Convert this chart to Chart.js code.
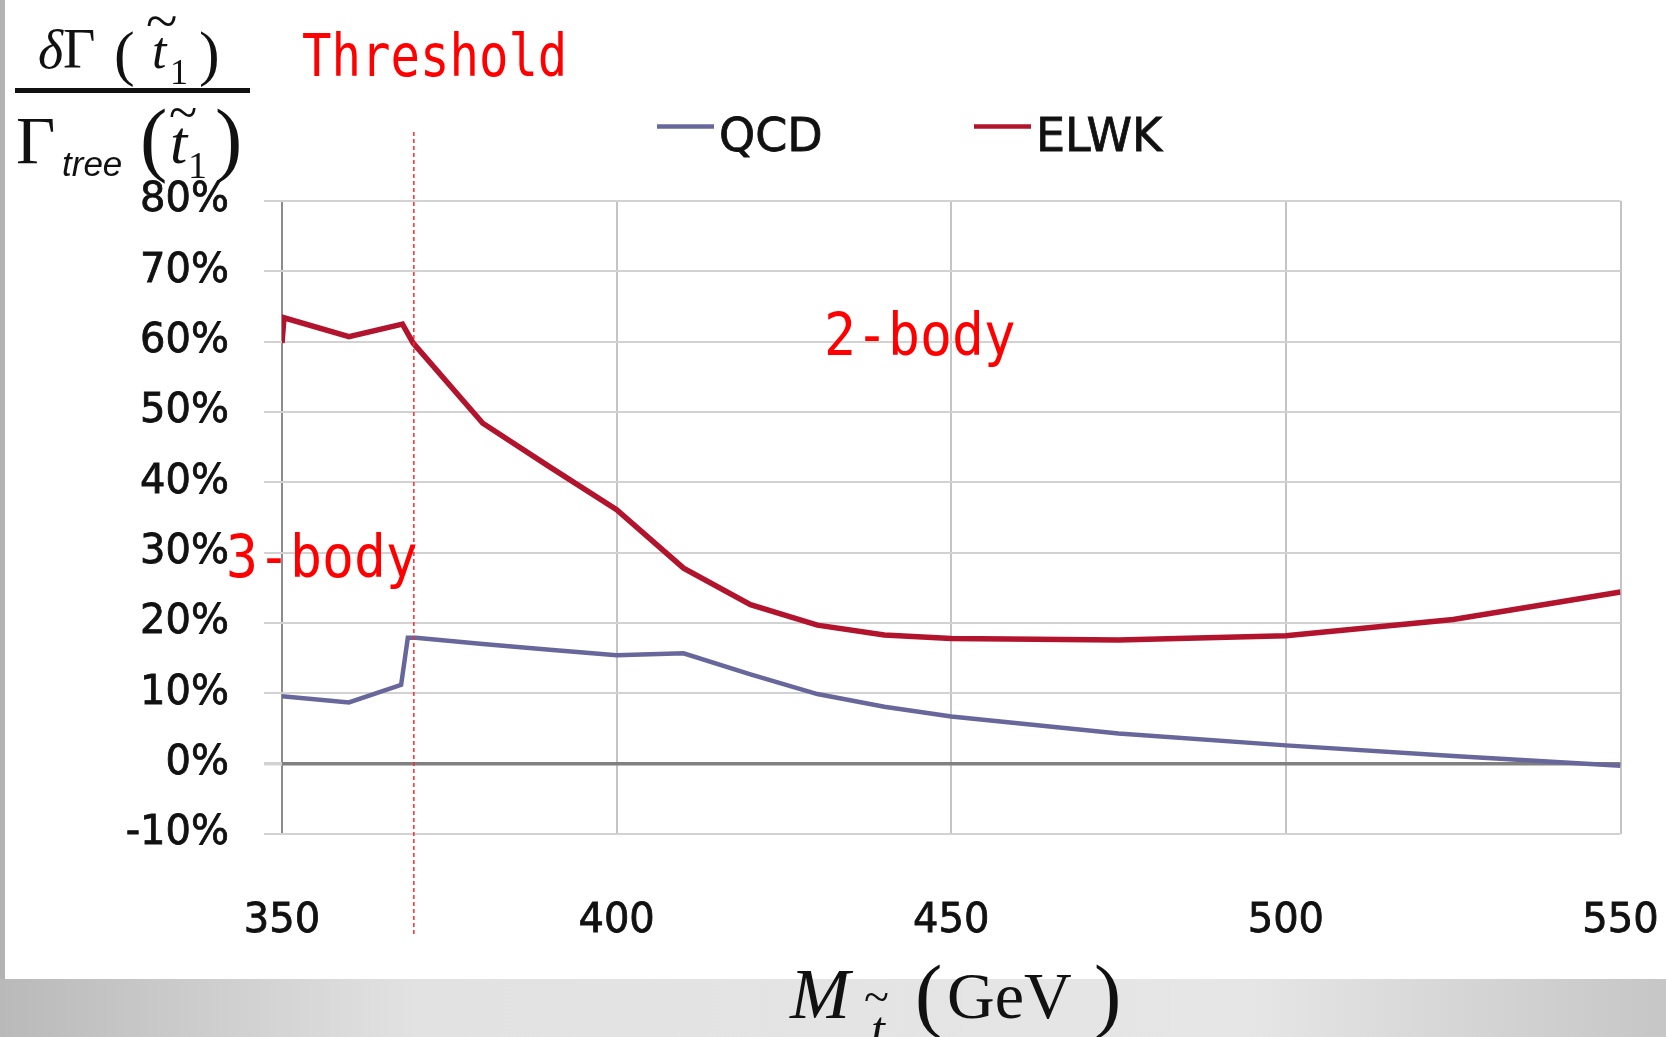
<!DOCTYPE html>
<html>
<head>
<meta charset="utf-8">
<title>Stop decay width corrections</title>
<script src="https://cdn.jsdelivr.net/npm/chart.js@4.4.0/dist/chart.umd.min.js"></script>
<style>
  html, body { margin: 0; padding: 0; background: #fff; overflow: hidden; }
  #wrap { width: 1666px; height: 1037px; }
</style>
</head>
<body>
<div id="wrap"><canvas id="grafico" width="1666" height="1037"></canvas></div>
<script>
// stop mass (GeV) and relative correction (%) for each series
var qcdMass  = [350, 360, 367.8, 368.8, 370, 380, 390, 400, 410, 420, 430, 440, 450, 475, 500, 525, 550]
var qcdShift = [9.6, 8.7, 11.2, 17.9, 17.9, 17.0, 16.2, 15.4, 15.7, 12.7, 9.9, 8.1, 6.7, 4.3, 2.6, 1.1, -0.3]

var elwkMass  = [350, 350.3, 360, 368, 369.6, 380, 390, 400, 410, 420, 430, 440, 450, 475, 500, 525, 550]
var elwkShift = [59.8, 63.4, 60.7, 62.5, 59.8, 48.4, 42.2, 36.1, 27.8, 22.6, 19.7, 18.3, 17.8, 17.6, 18.2, 20.5, 24.4]

var massTicks = [350, 400, 450, 500, 550]
var shiftTicks = [-10, 0, 10, 20, 30, 40, 50, 60, 70, 80]

// 2-body channel opens here
var threshold = 369.7

function pares(xs, ys){
    return xs.map(function(x, i){ return { x: x, y: ys[i] } })
}

// red mono labels, squeezed sideways
function textoMono(ctx, txt, x, y, sx){
    ctx.save()
    ctx.translate(x, y)
    ctx.scale(sx, 1)
    ctx.font = '59px "DejaVu Sans Mono"'
    ctx.fillStyle = '#ff0000'
    ctx.textBaseline = 'alphabetic'
    ctx.textAlign = 'left'
    ctx.fillText(txt, 0, 0)
    ctx.restore()
}

function escreve(ctx, txt, x, y, font){
    ctx.font = font
    ctx.fillText(txt, x, y)
}

var fundo = {
    id: 'fundo',
    beforeDraw: function(chart){
        var ctx = chart.ctx
        var w = chart.width, h = chart.height
        ctx.save()
        ctx.fillStyle = '#ffffff'
        ctx.fillRect(0, 0, w, h)
        // slide frame: left edge and bottom band
        ctx.fillStyle = '#b3b3b3'
        ctx.fillRect(0, 0, 5, 979)
        var g = ctx.createLinearGradient(0, 0, w, 0)
        g.addColorStop(0, '#b9b9b9')
        g.addColorStop(0.25, '#e2e2e2')
        g.addColorStop(0.75, '#e6e6e6')
        g.addColorStop(1, '#c6c6c6')
        ctx.fillStyle = g
        ctx.fillRect(0, 979, w, h - 979)
        ctx.restore()
    }
}

var enfeites = {
    id: 'enfeites',
    afterDatasetsDraw: function(chart){
        var ctx = chart.ctx
        var xs = chart.scales.x
        ctx.save()

        // threshold line
        var xt = xs.getPixelForValue(threshold)
        ctx.strokeStyle = '#ff2a2a'
        ctx.lineWidth = 1.5
        ctx.setLineDash([4, 3])
        ctx.beginPath()
        ctx.moveTo(xt, 132)
        ctx.lineTo(xt, 936)
        ctx.stroke()
        ctx.setLineDash([])

        textoMono(ctx, 'Threshold', 302, 76, 0.83)
        textoMono(ctx, '2-body', 824, 355, 0.9)
        textoMono(ctx, '3-body', 226, 577, 0.9)

        // legend
        var spots = [657, 974]
        chart.data.datasets.forEach(function(ds, i){
            ctx.strokeStyle = ds.borderColor
            ctx.lineWidth = 4.5
            ctx.beginPath()
            ctx.moveTo(spots[i], 126.5)
            ctx.lineTo(spots[i] + 57, 126.5)
            ctx.stroke()
            ctx.fillStyle = '#111'
            ctx.strokeStyle = '#111'
            ctx.lineWidth = 0.8
            ctx.textAlign = 'left'
            ctx.textBaseline = 'alphabetic'
            escreve(ctx, ds.label, spots[i] + 62, 151, '46px "DejaVu Sans"')
            ctx.strokeText(ds.label, spots[i] + 62, 151)
        })

        // y title: dGamma(t1) / Gamma_tree(t1)
        ctx.fillStyle = '#111'
        ctx.textBaseline = 'alphabetic'
        ctx.textAlign = 'left'
        escreve(ctx, '\u03b4', 38, 68, 'italic 54px "Liberation Serif"')
        escreve(ctx, '\u0393', 63, 68, '56px "Liberation Serif"')
        escreve(ctx, '(', 114, 74, '62px "Liberation Serif"')
        escreve(ctx, 't', 152, 68, 'italic 52px "Liberation Serif"')
        escreve(ctx, '~', 146, 40, '58px "Liberation Serif"')
        escreve(ctx, '1', 170, 84, '36px "Liberation Serif"')
        escreve(ctx, ')', 199, 74, '62px "Liberation Serif"')
        ctx.fillRect(15, 88, 235, 5)
        escreve(ctx, '\u0393', 16, 163, '68px "Liberation Serif"')
        escreve(ctx, 'tree', 62, 176, 'italic 35px "Liberation Sans"')
        escreve(ctx, '(', 140, 166, '82px "Liberation Serif"')
        escreve(ctx, 't', 170, 163, 'italic 62px "Liberation Serif"')
        escreve(ctx, '~', 169, 130, '52px "Liberation Serif"')
        escreve(ctx, '1', 188, 178, '38px "Liberation Serif"')
        escreve(ctx, ')', 215, 166, '82px "Liberation Serif"')

        // x title: M_t (GeV)
        escreve(ctx, 'M', 790, 1018, 'italic 72px "Liberation Serif"')
        escreve(ctx, '~', 864, 1012, '46px "Liberation Serif"')
        escreve(ctx, 't', 871, 1046, 'italic 50px "Liberation Serif"')
        escreve(ctx, '(', 915, 1022, '82px "Liberation Serif"')
        escreve(ctx, 'GeV', 947, 1018, '66px "Liberation Serif"')
        escreve(ctx, ')', 1094, 1022, '82px "Liberation Serif"')

        ctx.restore()
    }
}

Chart.defaults.font.family = '"DejaVu Sans", sans-serif'
Chart.defaults.color = '#111'

var ctx = document.getElementById('grafico').getContext('2d')
var grafico = new Chart(ctx, {
    type: 'line',
    data: {
        datasets: [
            {
                label: 'QCD',
                data: pares(qcdMass, qcdShift),
                borderColor: '#67679c',
                borderWidth: 4.5,
                pointRadius: 0,
                tension: 0,
                fill: false
            },
            {
                label: 'ELWK',
                data: pares(elwkMass, elwkShift),
                borderColor: '#b1142c',
                borderWidth: 5.5,
                pointRadius: 0,
                tension: 0,
                fill: false
            }
        ]
    },
    options: {
        responsive: false,
        animation: false,
        layout: {
            padding: { left: 0, right: 45.5, top: 201, bottom: 0 }
        },
        plugins: {
            legend: { display: false },
            tooltip: { enabled: false }
        },
        scales: {
            x: {
                type: 'linear',
                min: massTicks[0],
                max: massTicks[massTicks.length - 1],
                afterBuildTicks: function(axis){
                    axis.ticks = massTicks.map(function(v){ return { value: v } })
                },
                afterFit: function(axis){
                    axis.height = 203
                    axis.paddingLeft = 0
                    axis.paddingRight = 0
                },
                border: { display: false },
                grid: {
                    drawTicks: false,
                    lineWidth: 2,
                    color: function(c){ return c.tick && c.tick.value === 350 ? '#8c8c8c' : '#c4c4c4' }
                },
                ticks: {
                    padding: 64,
                    font: { size: 40 },
                    color: '#111',
                    textStrokeColor: '#111',
                    textStrokeWidth: 0.8,
                    maxRotation: 0
                }
            },
            y: {
                min: shiftTicks[0],
                max: shiftTicks[shiftTicks.length - 1],
                afterBuildTicks: function(axis){
                    axis.ticks = shiftTicks.map(function(v){ return { value: v } })
                },
                afterFit: function(axis){ axis.width = 282 },
                border: { display: false },
                grid: {
                    drawTicks: true,
                    tickLength: 18,
                    tickColor: '#d2d2d2',
                    lineWidth: function(c){ return c.tick && c.tick.value === 0 ? 3.5 : 2 },
                    color: function(c){ return c.tick && c.tick.value === 0 ? '#808080' : '#d2d2d2' }
                },
                ticks: {
                    padding: 35,
                    font: { size: 40 },
                    color: '#111',
                    textStrokeColor: '#111',
                    textStrokeWidth: 0.8,
                    callback: function(v){ return v + '%' }
                }
            }
        }
    },
    plugins: [fundo, enfeites]
})
</script>
</body>
</html>
